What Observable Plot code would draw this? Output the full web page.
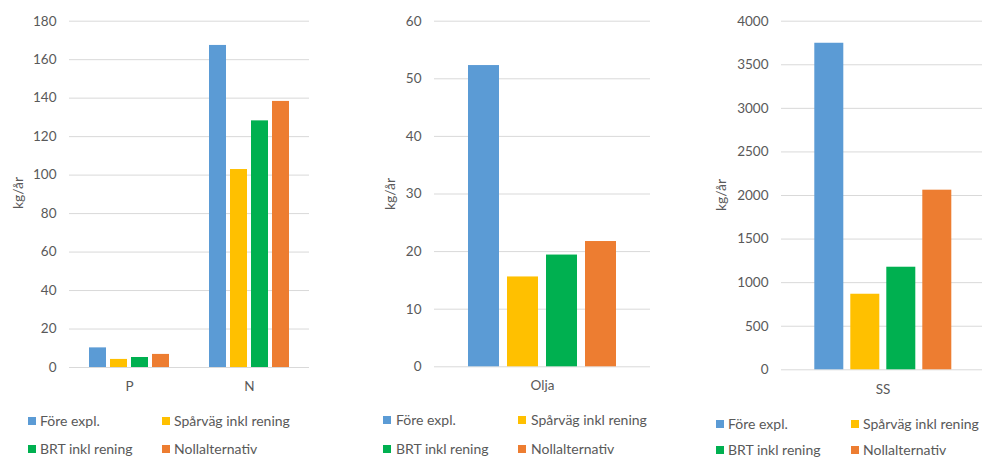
<!DOCTYPE html>
<html><head><meta charset="utf-8">
<script src="https://cdn.jsdelivr.net/npm/d3@7"></script>
<script src="https://cdn.jsdelivr.net/npm/@observablehq/plot@0.6"></script>
<style>
html,body{margin:0;padding:0;background:#fff;overflow:hidden;}
#wrap{position:relative;width:982px;height:459px;overflow:hidden;font-family:Lato, sans-serif;color:#595959;}
.panel{position:absolute;top:0;}
.ylab{position:absolute;font-size:14px;line-height:16px;transform:translate(-50%,-50%) rotate(-90deg);white-space:nowrap;}
.sw{position:absolute;width:8px;height:8px;}
.lt{position:absolute;font-size:14px;line-height:16px;white-space:nowrap;}
</style>
</head><body>
<div id="wrap"></div>
<script>
// ---- data ----
const series = ["Före expl.", "Spårväg inkl rening", "BRT inkl rening", "Nollalternativ"];
const seriesColors = ["#5B9BD5", "#FFC000", "#00B050", "#ED7D31"];

const panel1Categories = ["P", "N"];
const p1Fore = [10.2, 167.4];
const p1Sparvag = [4.2, 102.9];
const p1BRT = [5.2, 128.2];
const p1Noll = [6.8, 138.3];
const p1Ticks = [0, 20, 40, 60, 80, 100, 120, 140, 160, 180];

const panel2Categories = ["Olja"];
const p2Fore = [52.3];
const p2Sparvag = [15.6];
const p2BRT = [19.4];
const p2Noll = [21.75];
const p2Ticks = [0, 10, 20, 30, 40, 50, 60];

const panel3Categories = ["SS"];
const p3Fore = [3747];
const p3Sparvag = [867];
const p3BRT = [1177];
const p3Noll = [2061];
const p3Ticks = [0, 500, 1000, 1500, 2000, 2500, 3000, 3500, 4000];

const yUnit = "kg/år";

function rows(cats, arrs) {
  const out = [];
  cats.forEach((c, i) => arrs.forEach((a, s) => out.push({cat: c, series: series[s], value: a[i]})));
  return out;
}

const wrap = document.getElementById("wrap");

function panel(cfg) {
  const data = rows(cfg.cats, cfg.values);
  const plot = Plot.plot({
    width: cfg.width, height: cfg.height,
    marginLeft: cfg.mL, marginRight: cfg.mR, marginTop: cfg.mT, marginBottom: cfg.mB,
    style: {fontFamily: "Lato, sans-serif", fontSize: "13.5px", color: "#595959", background: "transparent", overflow: "visible"},
    facet: {data, x: "cat"},
    fx: {domain: cfg.cats, padding: 0, axis: "bottom", tickSize: 0, tickPadding: cfg.fxPad, label: null},
    x: {domain: series, axis: null, paddingInner: 0.2, paddingOuter: 0.86},
    y: {domain: [cfg.ticks[0], cfg.ticks[cfg.ticks.length - 1]], ticks: cfg.ticks, tickFormat: d => String(d), tickSize: 0, tickPadding: 13, label: null},
    color: {domain: series, range: seriesColors},
    marks: [
      Plot.ruleY(cfg.ticks, {stroke: "#d9d9d9", strokeWidth: 1}),
      Plot.barY(data, {x: "series", y: "value", fill: "series"})
    ]
  });
  plot.classList.add("panel");
  plot.style.left = cfg.left + "px";
  wrap.appendChild(plot);

  const yl = document.createElement("div");
  yl.className = "ylab";
  yl.textContent = yUnit;
  yl.style.left = cfg.ylab[0] + "px";
  yl.style.top = cfg.ylab[1] + "px";
  wrap.appendChild(yl);

  series.forEach((s, i) => {
    const r = Math.floor(i / 2), c = i % 2;
    const sw = document.createElement("div");
    sw.className = "sw";
    sw.style.background = seriesColors[i];
    sw.style.left = cfg.sq[c] + "px";
    sw.style.top = (cfg.rowsY[r] - 4) + "px";
    wrap.appendChild(sw);
    const t = document.createElement("div");
    t.className = "lt";
    t.textContent = s;
    t.style.left = cfg.tx[c] + "px";
    t.style.top = (cfg.rowsY[r] - 8) + "px";
    wrap.appendChild(t);
  });
}

panel({left: 0, width: 330, height: 400, mL: 68, mR: 21, mT: 20.7, mB: 33, cats: panel1Categories,
  values: [p1Fore, p1Sparvag, p1BRT, p1Noll], ticks: p1Ticks, fxPad: 14,
  ylab: [17.5, 193.3], rowsY: [421, 449], sq: [28, 162], tx: [40, 174]});
panel({left: 330, width: 330, height: 400, mL: 104, mR: 10, mT: 20.7, mB: 33.7, cats: panel2Categories,
  values: [p2Fore, p2Sparvag, p2BRT, p2Noll], ticks: p2Ticks, fxPad: 14,
  ylab: [389.7, 193.5], rowsY: [420, 449], sq: [383, 518], tx: [396, 531]});
panel({left: 660, width: 324, height: 400, mL: 120.7, mR: 0, mT: 20.7, mB: 30.7, cats: panel3Categories,
  values: [p3Fore, p3Sparvag, p3BRT, p3Noll], ticks: p3Ticks, fxPad: 15,
  ylab: [721, 195], rowsY: [424, 450], sq: [716, 851], tx: [728, 863]});
</script>
</body></html>
